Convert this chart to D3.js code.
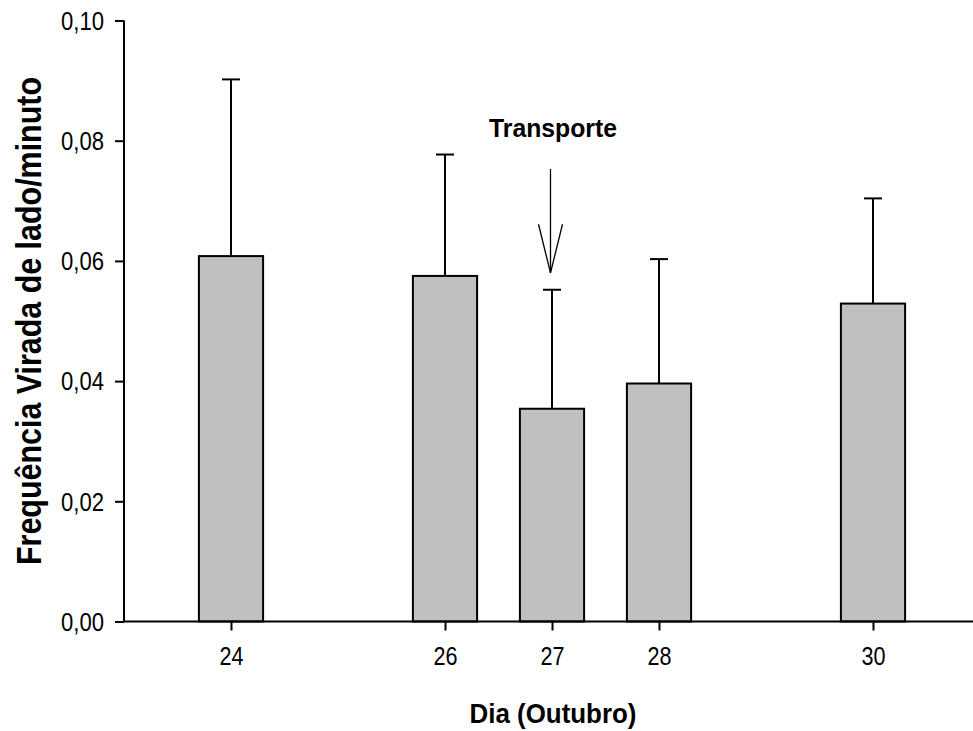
<!DOCTYPE html>
<html>
<head>
<meta charset="utf-8">
<script src="https://cdn.jsdelivr.net/npm/d3@7"></script>
<style>
  html, body { margin: 0; padding: 0; background: #fff; }
  svg { display: block; font-family: "Liberation Sans", Arial, Helvetica, sans-serif; }
</style>
</head>
<body>
<svg id="chart" width="973" height="731"></svg>
<script>
// ---- data ----
const days = [24, 26, 27, 28, 30];
const means = [0.0608, 0.0575, 0.0354, 0.0396, 0.0529];
const upperErr = [0.0902, 0.0777, 0.0552, 0.0603, 0.0704];
const yTicks = [0, 0.02, 0.04, 0.06, 0.08, 0.10];
const xTicks = [24, 26, 27, 28, 30];
const xTitle = "Dia (Outubro)";
const yTitle = "Frequência Virada de lado/minuto";
const annotationText = "Transporte";
const annotationDay = 27;
const arrowTop = 0.0753, arrowTip = 0.0580, arrowWing = 0.0661;

// ---- layout ----
const svg = d3.select("#chart");
const x = d3.scaleLinear().domain([23, 31]).range([124, 980]);
const y = d3.scaleLinear().domain([0, 0.10]).range([621.5, 20.5]);
const halfBar = 0.3;
const capHalf = 9;

const g = svg.append("g");

// bars
g.selectAll("rect.bar").data(days).join("rect")
  .attr("class", "bar")
  .attr("x", (d) => x(d - halfBar))
  .attr("width", (d) => x(d + halfBar) - x(d - halfBar))
  .attr("y", (d, i) => y(means[i]))
  .attr("height", (d, i) => y(0) - y(means[i]))
  .attr("fill", "#c0c0c0")
  .attr("stroke", "#000")
  .attr("stroke-width", 2);

// error bars (upper only)
g.selectAll("line.err").data(days).join("line")
  .attr("class", "err")
  .attr("x1", (d) => x(d)).attr("x2", (d) => x(d))
  .attr("y1", (d, i) => y(means[i])).attr("y2", (d, i) => y(upperErr[i]))
  .attr("stroke", "#000").attr("stroke-width", 2);
g.selectAll("line.cap").data(days).join("line")
  .attr("class", "cap")
  .attr("x1", (d) => x(d) - capHalf).attr("x2", (d) => x(d) + capHalf)
  .attr("y1", (d, i) => y(upperErr[i])).attr("y2", (d, i) => y(upperErr[i]))
  .attr("stroke", "#000").attr("stroke-width", 2);

// y axis
const yAxis = d3.axisLeft(y).tickValues(yTicks).tickSize(9).tickPadding(11)
  .tickFormat((d) => d3.format(".2f")(d).replace(".", ","));
const ya = svg.append("g").attr("transform", "translate(124,0)").call(yAxis);
ya.select(".domain").attr("stroke", "#000").attr("stroke-width", 2)
  .attr("d", `M0,${y(0.10)}V${y(0)}`);
ya.selectAll(".tick line").attr("stroke", "#000").attr("stroke-width", 2);
ya.selectAll(".tick text")
  .attr("font-size", 25).attr("fill", "#000")
  .attr("dy", "0.35em")
  .attr("textLength", 43).attr("lengthAdjust", "spacingAndGlyphs");

// x axis
const xAxis = d3.axisBottom(x).tickValues(xTicks).tickSize(9).tickPadding(17)
  .tickFormat(d3.format("d"));
const xa = svg.append("g").attr("transform", `translate(0,${y(0)})`).call(xAxis);
xa.select(".domain").attr("stroke", "#000").attr("stroke-width", 2)
  .attr("d", `M124,0H980`);
xa.selectAll(".tick line").attr("stroke", "#000").attr("stroke-width", 2);
xa.selectAll(".tick text")
  .attr("font-size", 25).attr("fill", "#000")
  .attr("dy", "0.71em")
  .attr("textLength", 24).attr("lengthAdjust", "spacingAndGlyphs");

// annotation arrow
const ax = x(annotationDay) - 1.5;
svg.append("line")
  .attr("x1", ax).attr("x2", ax)
  .attr("y1", y(arrowTop)).attr("y2", y(arrowTip))
  .attr("stroke", "#000").attr("stroke-width", 1.3);
svg.append("path")
  .attr("d", `M${ax - 12},${y(arrowWing)}L${ax},${y(arrowTip)}L${ax + 12},${y(arrowWing)}`)
  .attr("fill", "none").attr("stroke", "#000").attr("stroke-width", 1.3);
svg.append("text")
  .attr("x", 553).attr("y", 137)
  .attr("text-anchor", "middle")
  .attr("font-size", 26.5).attr("font-weight", "bold")
  .attr("textLength", 128).attr("lengthAdjust", "spacingAndGlyphs")
  .text(annotationText);

// axis titles
svg.append("text")
  .attr("x", 553).attr("y", 723)
  .attr("text-anchor", "middle")
  .attr("font-size", 28).attr("font-weight", "bold")
  .attr("textLength", 167).attr("lengthAdjust", "spacingAndGlyphs")
  .text(xTitle);
svg.append("text")
  .attr("transform", "translate(41,321) rotate(-90)")
  .attr("text-anchor", "middle")
  .attr("font-size", 35).attr("font-weight", "bold")
  .attr("textLength", 488).attr("lengthAdjust", "spacingAndGlyphs")
  .text(yTitle);
</script>
</body>
</html>
